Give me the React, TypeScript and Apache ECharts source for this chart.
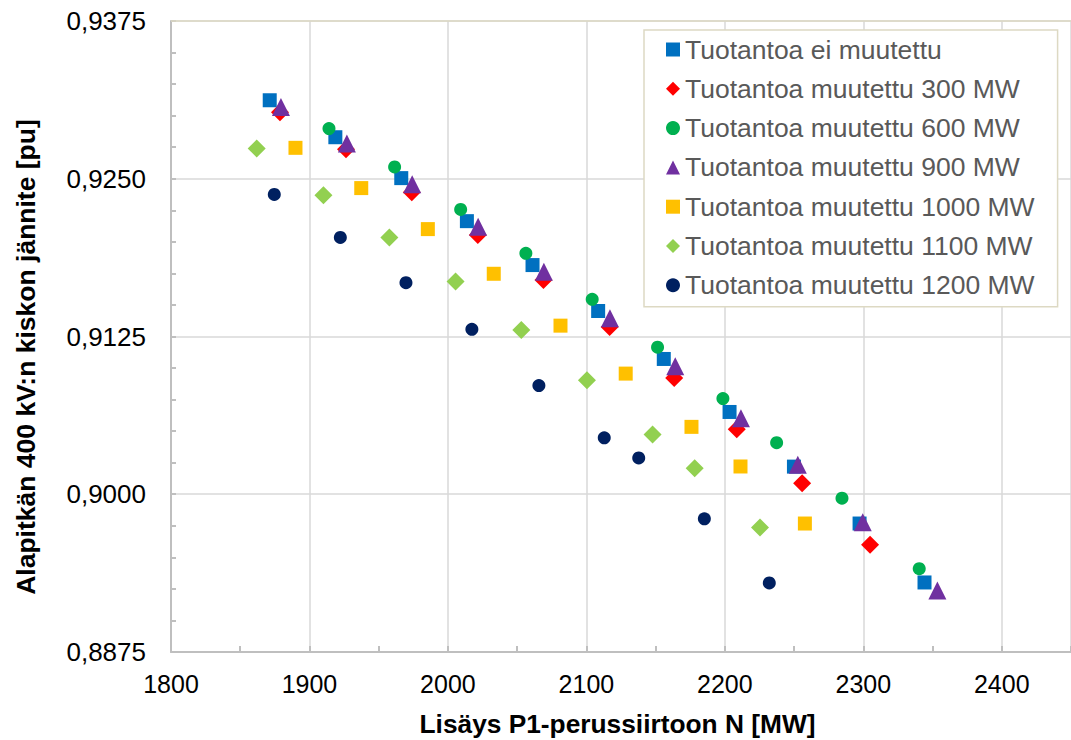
import { useEffect, useRef } from "react";
import * as echarts from "echarts";

const seriesNames = [
  "Tuotantoa ei muutettu",
  "Tuotantoa muutettu 300 MW",
  "Tuotantoa muutettu 600 MW",
  "Tuotantoa muutettu 900 MW",
  "Tuotantoa muutettu 1000 MW",
  "Tuotantoa muutettu 1100 MW",
  "Tuotantoa muutettu 1200 MW",
];

const eiMuutettu = [
  [1871.3, 0.93122], [1918.7, 0.92829], [1966.3, 0.92505], [2013.7, 0.92164],
  [2061.1, 0.91816], [2108.5, 0.91452], [2155.9, 0.91072], [2203.4, 0.90652],
  [2249.9, 0.90219], [2297.3, 0.89768], [2344.2, 0.89301],
];
const muutettu300 = [
  [1878.7, 0.93027], [1926.4, 0.92734], [1973.9, 0.92394], [2021.6, 0.92054],
  [2069.0, 0.91697], [2116.8, 0.91325], [2163.4, 0.90922], [2208.6, 0.90516],
  [2255.8, 0.90088], [2304.9, 0.8960],
];
const muutettu600 = [
  [1914.1, 0.92898], [1961.5, 0.92594], [2009.2, 0.92257], [2056.3, 0.91909],
  [2104.2, 0.91545], [2151.4, 0.91165], [2198.6, 0.90758], [2237.4, 0.90409],
  [2284.6, 0.89969], [2340.4, 0.8941],
];
const muutettu900 = [
  [1879.4, 0.93069], [1927.0, 0.9278], [1974.2, 0.92457], [2021.8, 0.92119],
  [2069.3, 0.91763], [2117.0, 0.91394], [2164.2, 0.91015], [2211.6, 0.90603],
  [2252.7, 0.90233], [2299.6, 0.89779], [2353.5, 0.89238],
];
const muutettu1000 = [
  [1889.9, 0.92745], [1937.4, 0.92426], [1985.5, 0.92101], [2033.1, 0.91747],
  [2081.3, 0.91336], [2128.4, 0.90956], [2175.9, 0.90534], [2211.3, 0.9022],
  [2257.8, 0.89768],
];
const muutettu1100 = [
  [1861.9, 0.9274], [1910.1, 0.9237], [1957.7, 0.92035], [2005.5, 0.91686],
  [2053.0, 0.91302], [2100.4, 0.90903], [2147.8, 0.90473], [2178.2, 0.90207],
  [2225.4, 0.89737],
];
const muutettu1200 = [
  [1874.6, 0.92376], [1922.3, 0.92035], [1969.7, 0.91676], [2017.3, 0.91307],
  [2065.7, 0.90861], [2112.9, 0.90447], [2137.8, 0.90288], [2185.2, 0.89805],
  [2232.1, 0.89297],
];

const allData = [eiMuutettu, muutettu300, muutettu600, muutettu900, muutettu1000, muutettu1100, muutettu1200];
const colors = ["#0070C0", "#FF0000", "#00B050", "#7030A0", "#FFC000", "#92D050", "#002060"];
const symbols = ["rect", "diamond", "circle", "triangle", "rect", "diamond", "circle"];
const sizes = [14, 18, 13, 18, 14, 18, 13];

const xMin = 1800;
const xMax = 2450;
const xInterval = 100;
const yMin = 0.8875;
const yMax = 0.9375;
const yInterval = 0.0125;

const FONT = "'Liberation Sans', Arial, sans-serif";

export default function App() {
  const ref = useRef<HTMLDivElement>(null);
  useEffect(() => {
    const chart = echarts.init(ref.current!, null, { renderer: "svg" });
    const axisColor = "#bfbfbf";
    chart.setOption({
      animation: false,
      backgroundColor: "#ffffff",
      grid: { left: 171, top: 21, width: 905, height: 631 },
      xAxis: {
        type: "value",
        min: xMin,
        max: xMax,
        interval: xInterval,
        axisLine: { show: true, lineStyle: { color: axisColor, width: 2 } },
        axisTick: { show: true, inside: true, length: 6, lineStyle: { color: axisColor, width: 2 } },
        minorTick: { show: true, splitNumber: 2, length: 6, lineStyle: { color: axisColor, width: 2 } },
        splitLine: { show: true, lineStyle: { color: "#d9d9d9", width: 1.5 } },
        axisLabel: {
          color: "#000",
          fontSize: 25,
          fontFamily: FONT,
          margin: 19,
          showMaxLabel: false,
          formatter: (v: number) => (v % 100 === 0 && v <= 2400 ? String(v) : ""),
        },
      },
      yAxis: {
        type: "value",
        min: yMin,
        max: yMax,
        interval: yInterval,
        axisLine: { show: true, lineStyle: { color: axisColor, width: 2 } },
        axisTick: { show: true, inside: true, length: 5, lineStyle: { color: axisColor, width: 2 } },
        minorTick: { show: true, splitNumber: 5, length: 5, lineStyle: { color: axisColor, width: 2 } },
        splitLine: { show: true, lineStyle: { color: "#d9d9d9", width: 1.5 } },
        axisLabel: {
          color: "#000",
          fontSize: 26,
          fontFamily: FONT,
          margin: 25,
          formatter: (v: number) => v.toFixed(4).replace(".", ","),
        },
      },
      legend: {
        orient: "vertical",
        left: 644,
        top: 30,
        padding: [6, 23, 8, 22],
        itemGap: 12.3,
        itemWidth: 14,
        itemHeight: 14,
        itemTextGap: 7,
        backgroundColor: "#ffffff",
        borderColor: "#ddd9c3",
        borderWidth: 1.5,
        textStyle: { fontSize: 26.5, color: "#595959", fontFamily: FONT, lineHeight: 26 },
        data: seriesNames,
      },
      graphic: [
        {
          type: "line",
          shape: { x1: 171, y1: 21, x2: 1071, y2: 21 },
          style: { stroke: "#ddd9c3", lineWidth: 1.5 },
          z: 1,
        },
        {
          type: "text",
          x: 26,
          y: 357,
          rotation: Math.PI / 2,
          style: {
            text: "Alapitkän 400 kV:n kiskon jännite [pu]",
            font: `bold 26.5px ${FONT}`,
            fill: "#000",
            align: "center",
            verticalAlign: "middle",
          },
        },
        {
          type: "text",
          x: 617.5,
          y: 724,
          style: {
            text: "{a|Lisäys P1-perussiirtoon N [MW}{b|]}",
            align: "center",
            verticalAlign: "middle",
            rich: {
              a: { fontSize: 26.3, fontWeight: "bold", fontFamily: FONT, color: "#000" },
              b: { fontSize: 26.3, fontWeight: "bold", fontFamily: FONT, color: "#7f7f7f" },
            },
          },
        },
      ],
      series: seriesNames.map((name, i) => ({
        name,
        type: "scatter",
        symbol: symbols[i],
        symbolSize: sizes[i],
        itemStyle: { color: colors[i], opacity: 1 },
        data: allData[i],
        emphasis: { disabled: true },
      })),
    });
    return () => chart.dispose();
  }, []);
  return (
    <div
      ref={ref}
      style={{ position: "absolute", left: 0, top: 0, width: 1071, height: 740, background: "#fff" }}
    />
  );
}
